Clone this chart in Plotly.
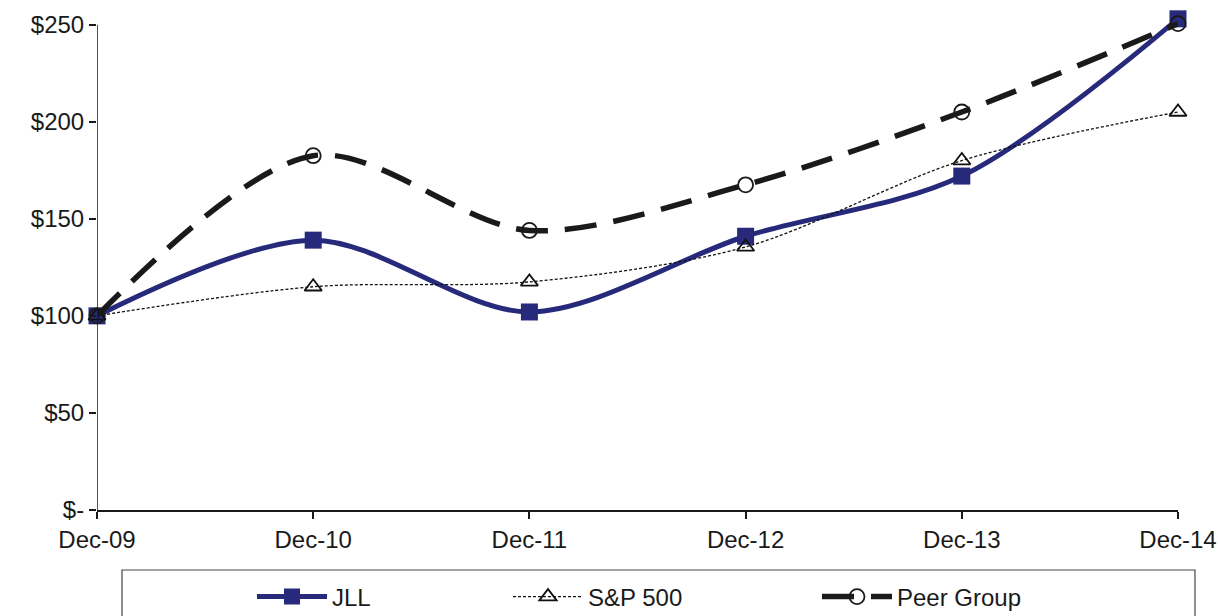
import plotly.graph_objects as go

categories = ["Dec-09", "Dec-10", "Dec-11", "Dec-12", "Dec-13", "Dec-14"]
jll = [100, 139, 102, 141, 172, 253]
sp500 = [100, 115, 117.5, 135.5, 180, 205]
peer = [100, 182.5, 144, 167.5, 205, 250.5]
y_ticks = [0, 50, 100, 150, 200, 250]
y_labels = ["$-", "$50", "$100", "$150", "$200", "$250"]

x = list(range(len(categories)))
FONT = "Liberation Sans, Arial"
INK = "#1a1a1a"

W, H = 1218, 616
L, R = 97, 40
Y0_PX, Y250_PX = 510, 25
YMAX = 256
unit = (Y0_PX - Y250_PX) / 250.0
T = int(round(Y0_PX - YMAX * unit))
B = H - Y0_PX
pw = W - L - R
ph = H - T - B

def px2x(p):
    return (p - L) / pw

def py2y(p):
    return (H - B - p) / ph

fig = go.Figure()
fig.add_trace(go.Scatter(
    x=x, y=jll, name="JLL", mode="lines+markers", legend="legend",
    line=dict(color="#272a7b", width=5, shape="spline", smoothing=0.9),
    marker=dict(symbol="square", size=17, color="#272a7b"),
    cliponaxis=False))
fig.add_trace(go.Scatter(
    x=x, y=sp500, name="S&P 500", mode="lines+markers", legend="legend2",
    line=dict(color="#111111", width=1.3, dash="3px,2px", shape="spline", smoothing=0.9),
    marker=dict(symbol="triangle-up-open", size=15, color="#111111", line=dict(width=1.8)),
    cliponaxis=False))
fig.add_trace(go.Scatter(
    x=x, y=peer, name="Peer Group", mode="lines+markers", legend="legend3",
    line=dict(color=INK, width=5.5, dash="32px,17px", shape="spline", smoothing=0.9),
    marker=dict(symbol="circle-open", size=15, color=INK, line=dict(width=1.8)),
    cliponaxis=False))

# y axis line (ending at the top tick) and legend frame
fig.add_shape(type="line", xref="x", yref="y", x0=0, x1=0, y0=0, y1=250,
              line=dict(color=INK, width=1.5))
fig.add_shape(type="rect", xref="paper", yref="paper",
              x0=px2x(122), x1=px2x(1195), y0=py2y(570), y1=py2y(640),
              line=dict(color="#444444", width=1.2), fillcolor="rgba(0,0,0,0)")

leg_common = dict(orientation="h", yanchor="middle", y=py2y(597), xanchor="left",
                  itemwidth=70, bgcolor="rgba(0,0,0,0)", borderwidth=0,
                  font=dict(family=FONT, size=24, color=INK))

fig.update_layout(
    width=W, height=H,
    margin=dict(l=L, r=R, t=T, b=B, autoexpand=False),
    plot_bgcolor="white", paper_bgcolor="white",
    font=dict(family=FONT, size=24, color=INK),
    showlegend=True,
    legend=dict(x=px2x(252), **leg_common),
    legend2=dict(x=px2x(508), **leg_common),
    legend3=dict(x=px2x(817), **leg_common),
    xaxis=dict(range=[0, 5], tickvals=x, ticktext=categories,
               showgrid=False, zeroline=False, showline=True,
               linecolor=INK, linewidth=1.5,
               ticks="outside", ticklen=7, tickcolor=INK, tickwidth=1.5,
               tickfont=dict(family=FONT, size=24)),
    yaxis=dict(range=[0, YMAX], tickvals=y_ticks, ticktext=y_labels,
               showgrid=False, zeroline=False, showline=False,
               ticks="outside", ticklen=7, tickcolor=INK, tickwidth=1.5,
               tickfont=dict(family=FONT, size=24)),
)

fig.write_html("out.html", config={"displayModeBar": False},
               post_script="document.body.style.margin='0';")
